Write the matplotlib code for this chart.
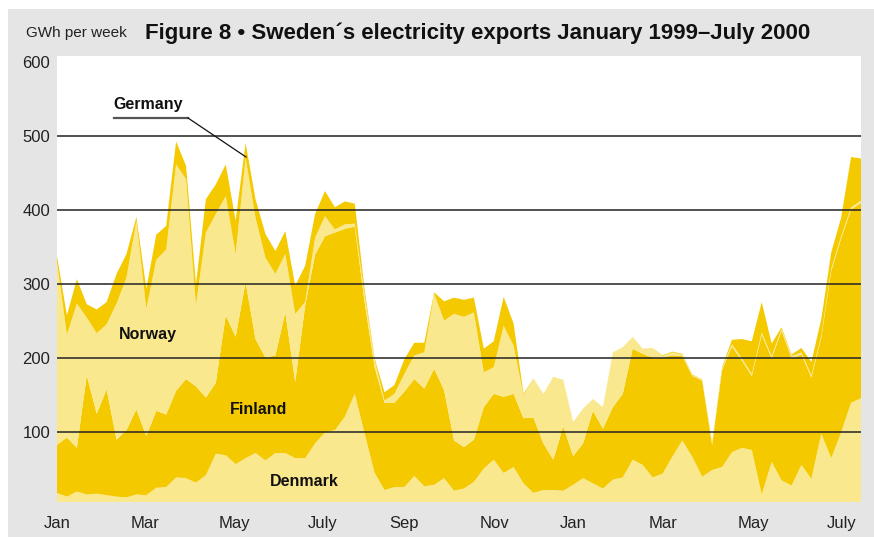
import matplotlib
matplotlib.use('Agg')
import matplotlib.pyplot as plt
from matplotlib.patches import Rectangle
from matplotlib.lines import Line2D

W, H = 874, 537

weeks = list(range(82))
denmark = [18, 13, 20, 16, 17, 15, 13, 12, 16, 15, 25, 26, 39, 38, 32, 42, 71, 69, 57, 65,
           72, 62, 72, 72, 65, 65, 85, 100, 103, 121, 152, 98, 45, 22, 26, 26, 41, 27, 29, 38,
           21, 24, 33, 51, 63, 45, 53, 31, 18, 22, 22, 21, 29, 38, 31, 24, 36, 39, 63, 56,
           39, 44, 67, 89, 67, 40, 49, 53, 73, 79, 76, 16, 60, 35, 28, 56, 37, 98, 65, 100,
           140, 146]
finland = [65, 80, 59, 161, 108, 143, 77, 91, 115, 80, 104, 98, 117, 134, 130, 105, 96, 189, 172, 238,
           154, 139, 132, 190, 103, 206, 255, 265, 267, 254, 226, 177, 143, 118, 114, 129, 131, 132, 157, 119,
           68, 56, 57, 83, 89, 103, 99, 88, 102, 63, 41, 87, 39, 47, 98, 81, 98, 113, 150, 150,
           162, 157, 137, 114, 109, 130, 34, 131, 143, 118, 100, 216, 140, 202, 172, 149, 137, 130, 253, 262,
           261, 264]
norway = [247, 139, 195, 78, 109, 88, 184, 206, 255, 172, 204, 223, 306, 270, 110, 223, 228, 161, 112, 168,
          164, 135, 110, 79, 92, 5, 23, 27, 4, 6, 4, 10, 9, 3, 12, 24, 32, 49, 101, 94,
          171, 176, 172, 47, 36, 96, 65, 31, 53, 67, 112, 63, 46, 47, 16, 29, 74, 63, 16, 7,
          13, 2, 4, 2, 1, 2, 2, 3, 3, 3, 3, 3, 3, 3, 3, 3, 3, 3, 3, 3,
          3, 3]
germany = [8, 26, 33, 18, 32, 30, 40, 32, 5, 27, 34, 32, 31, 18, 28, 45, 40, 43, 45, 20,
           25, 32, 31, 31, 38, 49, 32, 34, 30, 31, 27, 7, 3, 11, 12, 20, 17, 13, 2, 26,
           22, 23, 20, 32, 35, 39, 30, 2, 0, 0, 0, 0, 0, 0, 0, 0, 0, 0, 0, 0,
           0, 1, 1, 1, 1, 0, 1, 1, 6, 26, 44, 41, 17, 2, 2, 6, 18, 22, 22, 25,
           68, 57]

month_labels = ['Jan', 'Mar', 'May', 'July', 'Sep', 'Nov', 'Jan', 'Mar', 'May', 'July']
month_pos = [0, 8.87, 17.9, 26.8, 35.0, 44.05, 52.0, 61.1, 70.2, 79.1]
y_ticks = [100, 200, 300, 400, 500, 600]

LIGHT = '#FAE88E'
DARK = '#F4C900'
GREY = '#E5E5E5'
FONT = ['Liberation Sans', 'DejaVu Sans']

fig = plt.figure(figsize=(W / 100, H / 100), dpi=100, facecolor='white')
fig.patches.append(Rectangle((8 / W, 0), 1 - 8 / W, 1 - 9 / H, transform=fig.transFigure,
                             facecolor=GREY, edgecolor='none', zorder=-10))

ax = fig.add_axes([57 / W, 1 - 502 / H, (861 - 57) / W, (502 - 56) / H])
ax.set_facecolor('white')
ax.stackplot(weeks, denmark, finland, norway, germany,
             colors=[LIGHT, DARK, LIGHT, DARK], linewidth=0)
for v in y_ticks[:-1]:
    ax.axhline(v, color='#222222', lw=1.1, zorder=5)
ax.set_xlim(0, 81)
ax.set_ylim(5.8, 608.5)
for s in ax.spines.values():
    s.set_visible(False)
ax.set_yticks(y_ticks)
ax.set_yticklabels([str(v) for v in y_ticks], family=FONT, fontsize=12, color='#222222')
ax.set_xticks(month_pos)
ax.set_xticklabels(month_labels, family=FONT, fontsize=12, color='#222222')
ax.tick_params(axis='y', length=0, pad=5)
ax.tick_params(axis='x', length=0, pad=10)

# series labels
lab = dict(family=FONT, fontsize=11.5, fontweight='bold', color='#111111', ha='center', va='center')
def px(x, y):
    return x / W, 1 - y / H
fig.text(*px(148, 335), 'Norway', **lab)
fig.text(*px(259, 409), 'Finland', **lab)
fig.text(*px(304, 481), 'Denmark', **lab)
fig.text(*px(148, 105), 'Germany', **lab)
fig.lines.append(Line2D([114 / W, 188 / W], [1 - 118 / H, 1 - 118 / H], transform=fig.transFigure,
                        color='#555555', lw=1.6))
fig.lines.append(Line2D([188 / W, 246 / W], [1 - 118 / H, 1 - 157 / H], transform=fig.transFigure,
                        color='#111111', lw=0.9))

fig.text(*px(26, 33), 'GWh per week', family=FONT, fontsize=11, color='#222222', ha='left', va='center')
fig.text(*px(145, 33), 'Figure 8 \u2022 Sweden\u00b4s electricity exports January 1999\u2013July 2000',
         family=FONT, fontsize=16, fontweight='bold', color='#111111', ha='left', va='center')

fig.savefig('out.png', dpi=100, facecolor=fig.get_facecolor())
